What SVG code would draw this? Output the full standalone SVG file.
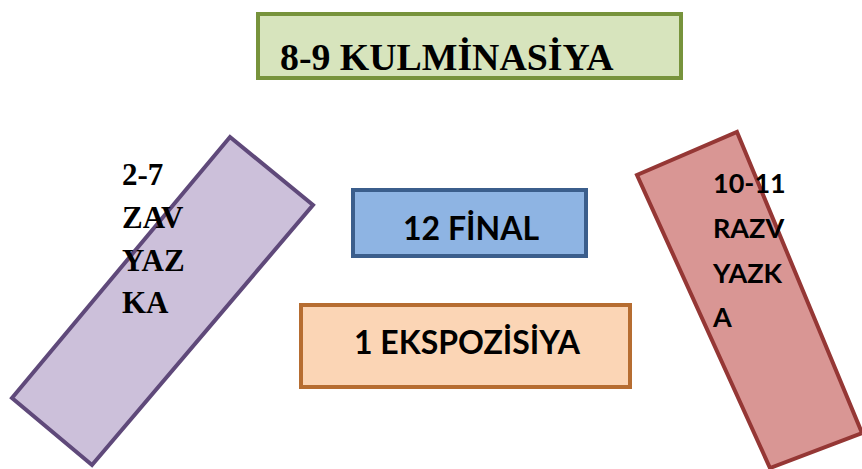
<svg xmlns="http://www.w3.org/2000/svg" width="862" height="469" viewBox="0 0 862 469">
<style>
.sans{font-family:Lato,"Open Sans","Liberation Sans",sans-serif;font-weight:bold;fill:#000}
.s{stroke-width:4}
</style>
<rect width="862" height="469" fill="#fff"/>
<g id="node-zavyazka">
<polygon class="s" points="230,137 313,205 92,465 12,398" fill="#CCC0DA" stroke="#5F497A"/>
<g font-family="'Liberation Serif', 'Times New Roman', serif" font-weight="bold" font-size="31" fill="#000">
<text x="122" y="185">2-7</text>
<text x="122" y="228">ZAV</text>
<text x="122" y="271">YAZ</text>
<text x="122" y="313">KA</text>
</g>
</g>
<g id="node-razvyazka">
<polygon class="s" points="737,132 862,433 770,468 637,175" fill="#D99694" stroke="#953735"/>
<text class="sans" font-size="27" x="713" y="193">10-11</text>
<text class="sans" font-size="27" x="713" y="238">RAZV</text>
<text class="sans" font-size="27" x="713" y="283">YAZK</text>
<text class="sans" font-size="27" x="713" y="327">A</text>
</g>
<g id="node-kulminasiya">
<rect class="s" x="258" y="14" width="423" height="64" fill="#D7E4BD" stroke="#77933C"/>
<text font-family="'Liberation Serif', 'Times New Roman', serif" font-weight="bold" font-size="37.8" fill="#000" x="280" y="70">8-9 KULMİNASİYA</text>
</g>
<g id="node-final">
<rect class="s" x="353" y="190" width="233" height="66" fill="#8EB4E3" stroke="#3B5E8C"/>
<text class="sans" font-size="32" x="403" y="240">12 FİNAL</text>
</g>
<g id="node-ekspozisiya">
<rect class="s" x="301" y="305" width="329" height="82" fill="#FBD5B5" stroke="#B66D31"/>
<text class="sans" font-size="32" x="354" y="354">1 EKSPOZİSİYA</text>
</g>
<g id="connectors"></g>
</svg>
